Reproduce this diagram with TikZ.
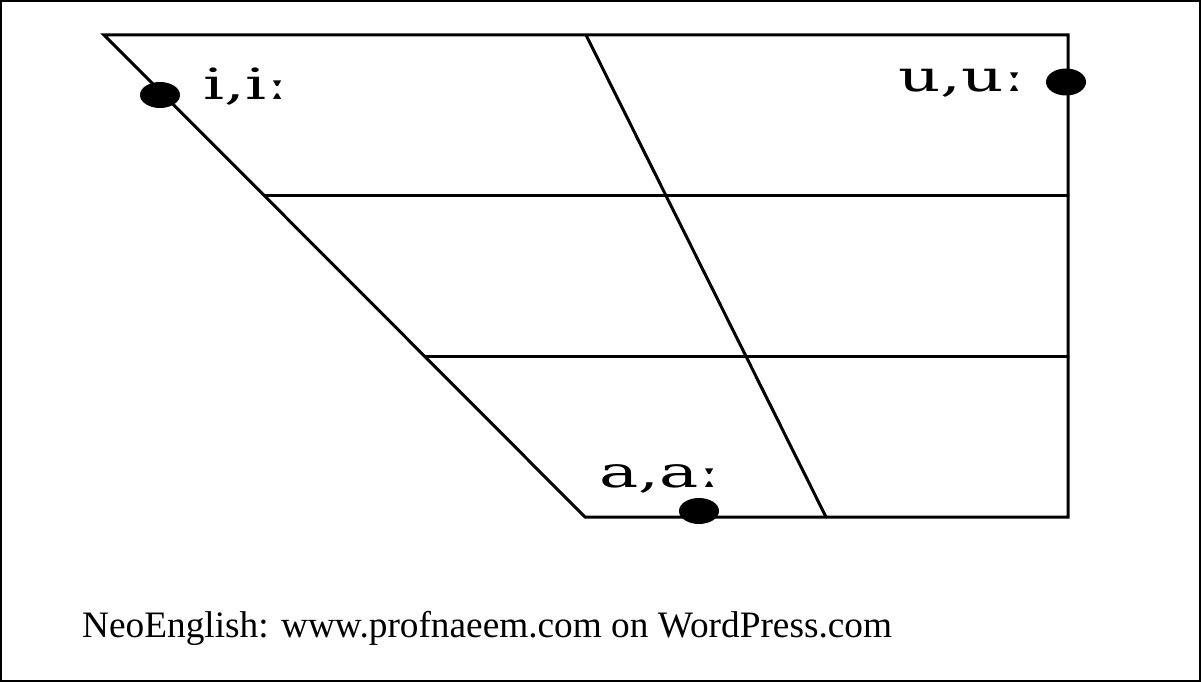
\documentclass[tikz,border=0pt]{standalone}
\usepackage{fontspec}
\setmainfont{Liberation Serif}
\newfontfamily\ipafont[FakeStretch=1.53]{DejaVu Serif}
\usetikzlibrary{calc}
\tikzset{
  gridline/.style={line width=3pt, line cap=round, line join=miter},
  vlabel/.style={anchor=base west, inner sep=0pt, font=\ipafont\fontsize{43}{43}\selectfont},
  footer/.style={anchor=base west, inner sep=0pt, font=\fontsize{37.3}{40}\selectfont}
}
\begin{document}
\begin{tikzpicture}[x=1pt,y=-1pt]
\useasboundingbox (0,0) rectangle (1201,682);
\draw[line width=2pt] (1,1) rectangle (1200,681);
% corners of the quadrilateral
\coordinate (TL) at (104,35);
\coordinate (TM) at (586,35);
\coordinate (TR) at (1068,35);
\coordinate (BL) at (585,517);
\coordinate (BM) at (826,517);
\coordinate (BR) at (1068,517);
\coordinate (L1) at ($(TL)!1/3!(BL)$);
\coordinate (L2) at ($(TL)!2/3!(BL)$);
\coordinate (R1) at ($(TR)!1/3!(BR)$);
\coordinate (R2) at ($(TR)!2/3!(BR)$);
\draw[gridline] (TL) -- (TR) -- (BR) -- (BL) -- cycle;
\draw[gridline] (TM) -- (BM);
\draw[gridline] (L1) -- (R1);
\draw[gridline] (L2) -- (R2);
% vowel dots
\fill (160,95) ellipse [x radius=20, y radius=13];
\fill (1066,82) ellipse [x radius=20, y radius=13.5];
\fill (699,511) ellipse [x radius=20, y radius=13];
% labels
\node[vlabel] (ii) at (203,100) {i,iː};
\node[vlabel] (uu) at (898,92) {u,uː};
\node[vlabel] (aa) at (599,487) {a,aː};
\node[footer] (foot) at (82,637) {NeoEnglish: www.profnaeem.com on WordPress.com};
\end{tikzpicture}
\end{document}
